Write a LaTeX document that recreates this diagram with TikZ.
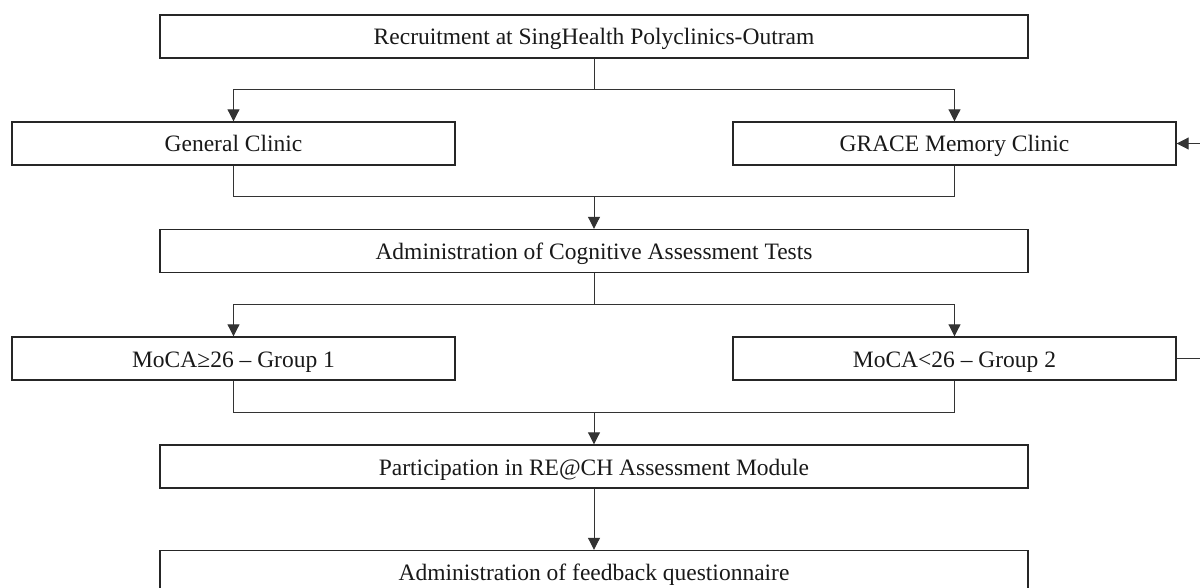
\documentclass[tikz,border=0pt]{standalone}
\usepackage{fontspec}
\setmainfont{Liberation Serif}
\usetikzlibrary{arrows.meta}
\begin{document}
\begin{tikzpicture}[x=1pt,y=-1pt,
  box/.style={draw=black!85,line width=1.4pt,minimum height=43pt,inner sep=0pt,text height=19pt,text depth=2pt,font=\fontsize{23.5}{28}\selectfont,text=black!90},
  wide/.style={box,minimum width=868pt},
  half/.style={box,minimum width=443pt},
  conn/.style={draw=black!80,line width=1pt},
  arr/.style={conn,-{Triangle[length=12pt,width=12pt]}}]
\useasboundingbox (0,0) rectangle (1200,588);
\clip (0,0) rectangle (1200,588);
\fill[white] (0,0) rectangle (1200,588);
\node[wide] (rec) at (594,36.5) {Recruitment at SingHealth Polyclinics-Outram};
\node[half] (gc) at (233.5,143.5) {General Clinic};
\node[half] (gm) at (954.5,143.5) {GRACE Memory Clinic};
\node[wide] (adm) at (594,251) {Administration of Cognitive Assessment Tests};
\node[half] (g1) at (233.5,358.5) {MoCA≥26 – Group 1};
\node[half] (g2) at (954.5,358.5) {MoCA<26 – Group 2};
\node[wide] (par) at (594,466.5) {Participation in RE@CH Assessment Module};
\node[wide] (fb) at (594,572) {Administration of feedback questionnaire};
\coordinate (b1) at (594,90);
\coordinate (m1) at (594,197);
\coordinate (b2) at (594,304);
\coordinate (m2) at (594,412);
\coordinate (lp) at (1220,0);
\draw[conn] (rec.south) -- (b1);
\draw[arr] (b1) -| (gc.north);
\draw[arr] (b1) -| (gm.north);
\draw[conn] (gc.south) |- (m1);
\draw[conn] (gm.south) |- (m1);
\draw[arr] (m1) -- (adm.north);
\draw[conn] (adm.south) -- (b2);
\draw[arr] (b2) -| (g1.north);
\draw[arr] (b2) -| (g2.north);
\draw[conn] (g1.south) |- (m2);
\draw[conn] (g2.south) |- (m2);
\draw[arr] (m2) -- (par.north);
\draw[arr] (par.south) -- (fb.north);
\draw[arr] (g2.east) -- (g2.east -| lp) |- (gm.east);
\end{tikzpicture}
\end{document}
